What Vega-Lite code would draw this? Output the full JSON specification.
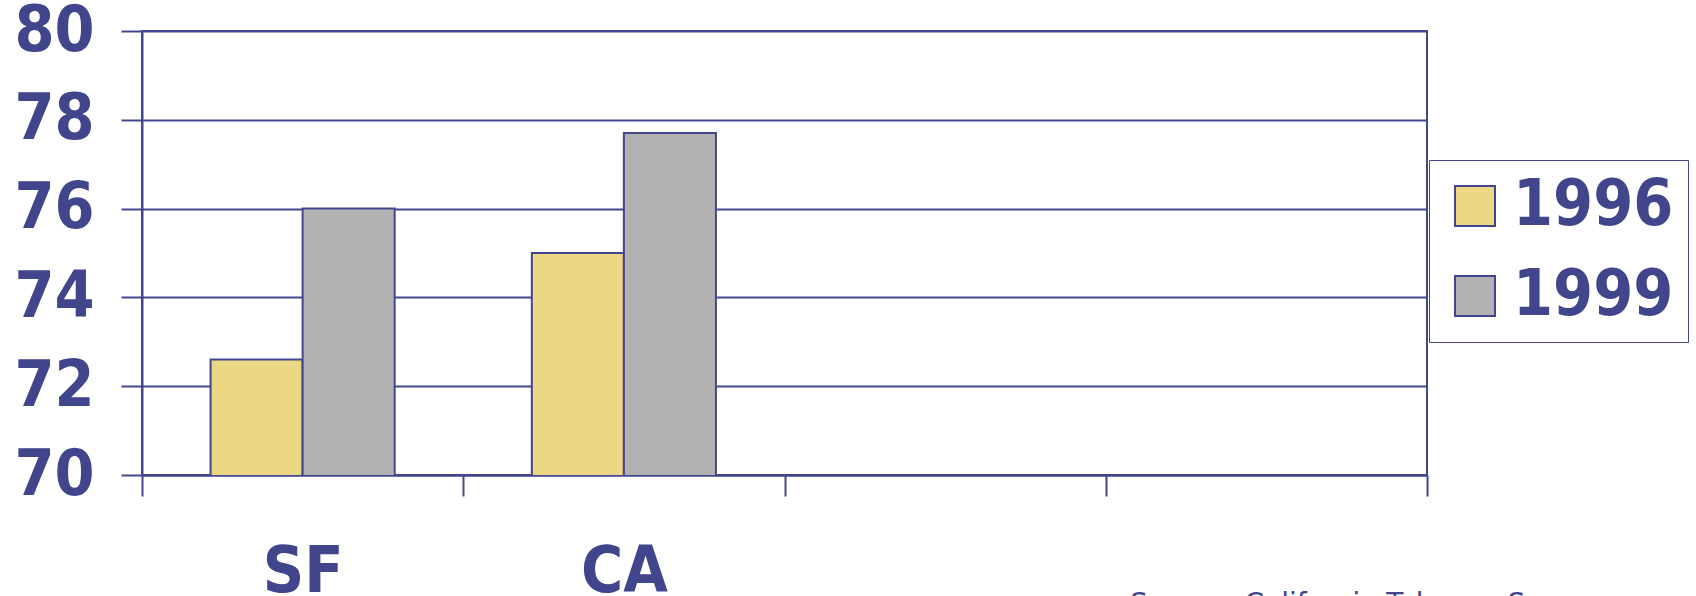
{
  "$schema": "https://vega.github.io/schema/vega-lite/v6.json",
  "autosize": {"type": "none"},
  "padding": {"left": 142, "top": 31, "right": 269, "bottom": 121},
  "width": 1285,
  "height": 444,
  "background": "white",
  "title": {
    "text": "Source: California Tobacco Survey",
    "orient": "bottom",
    "anchor": "start",
    "frame": "group",
    "dx": 988,
    "offset": -13,
    "baseline": "top",
    "font": "DejaVu Sans",
    "fontSize": 28,
    "fontWeight": "normal",
    "color": "#40458C"
  },
  "data": {
    "values": [
      {"region": "SF", "year": "1996", "rate": 72.6},
      {"region": "SF", "year": "1999", "rate": 76.0},
      {"region": "CA", "year": "1996", "rate": 75.0},
      {"region": "CA", "year": "1999", "rate": 77.7}
    ]
  },
  "mark": {"type": "bar", "stroke": "#42468E", "strokeWidth": 2, "clip": true},
  "encoding": {
    "x": {
      "field": "region",
      "type": "nominal",
      "sort": null,
      "scale": {"domain": ["SF", "CA", "c3", "c4"], "paddingInner": 0, "paddingOuter": 0},
      "axis": {
        "title": null,
        "tickBand": "extent",
        "ticks": true,
        "tickSize": 21,
        "tickWidth": 2,
        "tickColor": "#42468E",
        "domain": true,
        "domainColor": "#42468E",
        "domainWidth": 2,
        "labelAngle": 0,
        "labelFont": "DejaVu Sans Condensed",
        "labelFontWeight": "bold",
        "labelFontSize": 64,
        "labelColor": "#40458C",
        "labelPadding": 44,
        "labelExpr": "datum.value == 'SF' || datum.value == 'CA' ? datum.value : ''"
      }
    },
    "xOffset": {
      "field": "year",
      "type": "nominal",
      "scale": {"paddingInner": 0, "paddingOuter": 0.745}
    },
    "y": {
      "field": "rate",
      "type": "quantitative",
      "scale": {"domain": [70, 80], "nice": false, "zero": false},
      "axis": {
        "title": null,
        "values": [70, 72, 74, 76, 78, 80],
        "format": "d",
        "grid": true,
        "gridColor": "#42468E",
        "gridWidth": 2,
        "gridOpacity": 1,
        "tickSize": 21,
        "tickWidth": 2,
        "tickColor": "#42468E",
        "domainColor": "#42468E",
        "domainWidth": 2,
        "labelFont": "DejaVu Sans Condensed",
        "labelFontWeight": "bold",
        "labelFontSize": 64,
        "labelColor": "#40458C",
        "labelPadding": 27,
        "labelFlush": false,
        "labelOverlap": false,
        "labelBound": false
      }
    },
    "color": {
      "field": "year",
      "type": "nominal",
      "scale": {"domain": ["1996", "1999"], "range": ["#EBD784", "#B2B2B2"]},
      "legend": {
        "title": null,
        "orient": "none",
        "legendX": 1287,
        "legendY": 129,
        "strokeColor": "#42468E",
        "padding": 14,
        "symbolType": "square",
        "symbolSize": 1600,
        "symbolStrokeColor": "#42468E",
        "symbolStrokeWidth": 2,
        "symbolOpacity": 1,
        "labelFont": "DejaVu Sans Condensed",
        "labelFontWeight": "bold",
        "labelFontSize": 64,
        "labelColor": "#40458C",
        "labelOffset": 6,
        "labelLimit": 400,
        "rowPadding": 26
      }
    }
  },
  "config": {
    "view": {"stroke": "#42468E", "strokeWidth": 2}
  }
}
